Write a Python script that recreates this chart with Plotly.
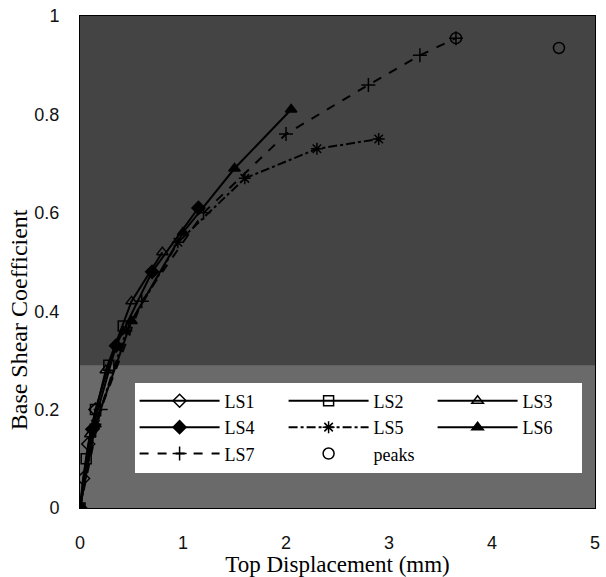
import plotly.graph_objects as go

# Load-step backbone curves (Top displacement in mm, base shear coefficient)
ls1_x = [0, 0.03, 0.08, 0.15]
ls1_y = [0, 0.06, 0.13, 0.2]
ls2_x = [0, 0.06, 0.15, 0.28, 0.42]
ls2_y = [0, 0.1, 0.2, 0.29, 0.37]
ls3_x = [0, 0.1, 0.25, 0.5, 0.8]
ls3_y = [0, 0.15, 0.28, 0.42, 0.52]
ls4_x = [0, 0.12, 0.35, 0.7, 1.15]
ls4_y = [0, 0.16, 0.33, 0.48, 0.61]
ls5_x = [0, 0.15, 0.45, 0.95, 1.6, 2.3, 2.9]
ls5_y = [0, 0.17, 0.36, 0.54, 0.67, 0.73, 0.75]
ls6_x = [0, 0.15, 0.5, 1.0, 1.5, 2.05]
ls6_y = [0, 0.17, 0.38, 0.56, 0.69, 0.81]
ls7_x = [0, 0.2, 0.6, 1.2, 2.0, 2.8, 3.3, 3.65]
ls7_y = [0, 0.2, 0.42, 0.6, 0.76, 0.86, 0.92, 0.955]
peaks_x = [3.65, 4.65]
peaks_y = [0.955, 0.935]

x_ticks = [0, 1, 2, 3, 4, 5]
y_ticks = [0, 0.2, 0.4, 0.6, 0.8, 1]
y_tick_labels = ["0", "0.2", "0.4", "0.6", "0.8", "1"]

fig = go.Figure()

def add(name, x, y, symbol, dash="solid", mode="lines+markers", size=10):
    fig.add_trace(go.Scatter(
        x=x, y=y, name=name, mode=mode,
        line=dict(color="black", width=2, dash=dash),
        marker=dict(symbol=symbol, size=size, color="black",
                    line=dict(color="black", width=1.5)),
    ))

add("LS1", ls1_x, ls1_y, "diamond-open")
add("LS2", ls2_x, ls2_y, "square-open")
add("LS3", ls3_x, ls3_y, "triangle-up-open")
add("LS4", ls4_x, ls4_y, "diamond")
add("LS5", ls5_x, ls5_y, "asterisk-open", dash="dashdot")
add("LS6", ls6_x, ls6_y, "triangle-up")
add("LS7", ls7_x, ls7_y, "cross-thin-open", dash="dash")
add("peaks", peaks_x, peaks_y, "circle-open", mode="markers", size=11)

fig.add_shape(type="rect", xref="x", yref="y", x0=0, x1=5, y0=0, y1=0.29,
              fillcolor="#6a6a6a", line=dict(width=0), layer="below")

fig.add_annotation(
    text="Base Shear Coefficient", textangle=-90,
    xref="paper", yref="paper", x=-0.119, y=0.383,
    xanchor="center", yanchor="middle", showarrow=False,
    font=dict(family="Liberation Serif", size=24, color="black"),
)

fig.update_layout(
    width=606, height=577,
    margin=dict(l=80, r=6, t=15, b=69),
    paper_bgcolor="white",
    plot_bgcolor="#444444",
    showlegend=True,
    legend=dict(
        orientation="h",
        x=0.106, y=0.255, xanchor="left", yanchor="top",
        bgcolor="white", borderwidth=0,
        font=dict(family="Liberation Serif", size=18, color="black"),
        itemwidth=80,
        entrywidth=54, entrywidthmode="pixels",
        tracegroupgap=0,
        traceorder="normal",
    ),
    xaxis=dict(
        range=[0, 5], tickvals=x_ticks, showgrid=False, zeroline=False,
        showline=True, linecolor="black", linewidth=1, mirror=True,
        ticks="", ticklabelstandoff=18,
        tickfont=dict(family="Liberation Sans", size=18, color="#111"),
        title=dict(text="Top Displacement (mm)", standoff=2,
                   font=dict(family="Liberation Serif", size=23, color="black")),
    ),
    yaxis=dict(
        range=[0, 1], tickvals=y_ticks, ticktext=y_tick_labels,
        showgrid=False, zeroline=False,
        showline=True, linecolor="black", linewidth=1, mirror=True,
        ticks="", ticklabelstandoff=16,
        tickfont=dict(family="Liberation Sans", size=18, color="#111"),
    ),
)

fig.write_html("out.html")
